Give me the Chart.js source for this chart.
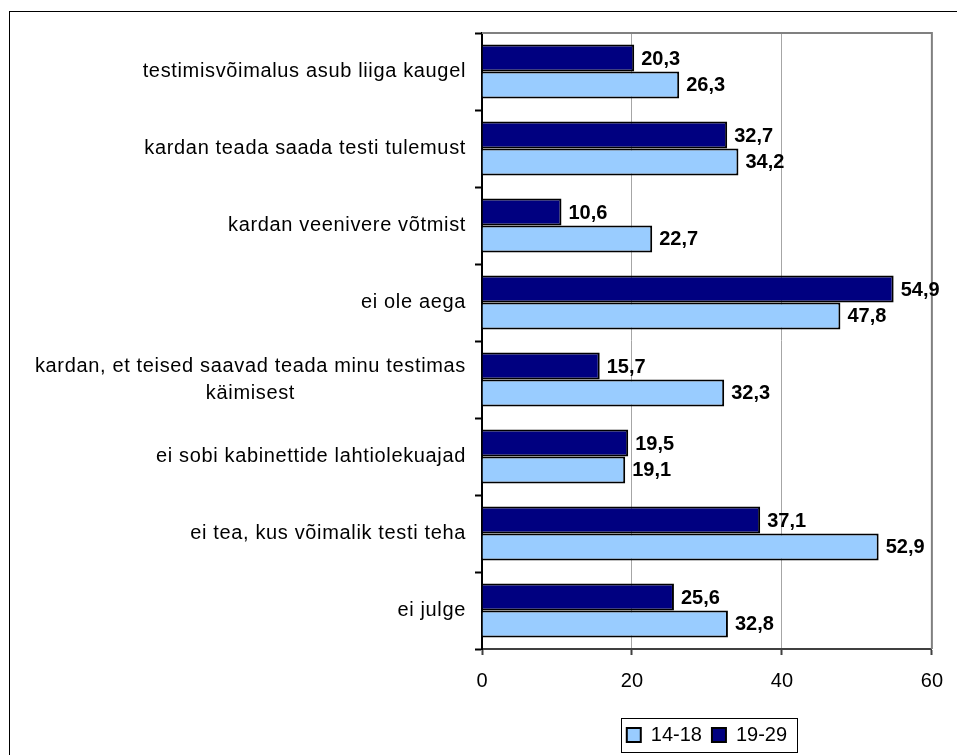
<!DOCTYPE html>
<html>
<head>
<meta charset="utf-8">
<script src="https://cdn.jsdelivr.net/npm/chart.js@4.4.1/dist/chart.umd.min.js"></script>
<style>
  html, body { margin: 0; padding: 0; background: #fff; }
  #wrap { width: 957px; height: 755px; }
</style>
</head>
<body>
<div id="wrap"><canvas id="chart" width="957" height="755"></canvas></div>
<script>
// categories, top to bottom
const categories = [
  'testimisvõimalus asub liiga kaugel',
  'kardan teada saada testi tulemust',
  'kardan veenivere võtmist',
  'ei ole aega',
  ['kardan, et teised saavad teada minu testimas', 'käimisest'],
  'ei sobi kabinettide lahtiolekuajad',
  'ei tea, kus võimalik testi teha',
  'ei julge'
];
const age1418 = [26.3, 34.2, 22.7, 47.8, 32.3, 19.1, 52.9, 32.8];
const age1929 = [20.3, 32.7, 10.6, 54.9, 15.7, 19.5, 37.1, 25.6];
const xTicks = [0, 20, 40, 60];

const FONT = 'Arial, "Liberation Sans", sans-serif';

// outer frame of the chart object
const frame = {
  id: 'frame',
  beforeDraw(chart) {
    const ctx = chart.ctx;
    ctx.save();
    ctx.fillStyle = '#fff';
    ctx.fillRect(0, 0, chart.width, chart.height);
    ctx.strokeStyle = '#000';
    ctx.lineWidth = 1;
    ctx.strokeRect(9.5, 11.5, 2000, 2000);
    ctx.restore();
  },
  beforeDatasetsDraw(chart) {
    // grey plot area border on top and right
    const {ctx, chartArea: a} = chart;
    ctx.save();
    ctx.strokeStyle = '#808080';
    ctx.lineWidth = 2;
    ctx.beginPath();
    ctx.moveTo(a.left, a.top);
    ctx.lineTo(a.right, a.top);
    ctx.lineTo(a.right, a.bottom);
    ctx.stroke();
    ctx.restore();
  }
};

// category labels: single lines right aligned, wrapped ones centred
const catLabels = {
  id: 'catLabels',
  afterDraw(chart) {
    const {ctx, scales: {y}} = chart;
    const right = chart.chartArea.left - 16;
    ctx.save();
    ctx.font = '20px ' + FONT;
    ctx.letterSpacing = '0.65px';
    ctx.fillStyle = '#000';
    ctx.textBaseline = 'middle';
    categories.forEach((lab, i) => {
      const cy = y.getPixelForValue(i);
      const lines = Array.isArray(lab) ? lab : [lab];
      const widest = Math.max(...lines.map(l => ctx.measureText(l).width));
      ctx.textAlign = lines.length > 1 ? 'center' : 'right';
      const x = lines.length > 1 ? right - widest / 2 : right;
      lines.forEach((l, j) => {
        ctx.fillText(l, x, cy + (j - (lines.length - 1) / 2) * 27);
      });
    });
    ctx.restore();
  }
};

// value labels at bar ends
const valueLabels = {
  id: 'valueLabels',
  afterDatasetsDraw(chart) {
    const ctx = chart.ctx;
    ctx.save();
    ctx.font = 'bold 20px ' + FONT;
    ctx.fillStyle = '#000';
    ctx.textAlign = 'left';
    ctx.textBaseline = 'middle';
    chart.data.datasets.forEach((ds, di) => {
      chart.getDatasetMeta(di).data.forEach((bar, i) => {
        ctx.fillText(ds.data[i].toFixed(1).replace('.', ','), bar.x + 7, bar.y + 1);
      });
    });
    ctx.restore();
  }
};

// box around the legend
const legendBox = {
  id: 'legendBox',
  afterDraw(chart) {
    const boxes = chart.legend.legendHitBoxes;
    if (!boxes || !boxes.length) return;
    const first = boxes[0], last = boxes[boxes.length - 1];
    const ctx = chart.ctx;
    ctx.save();
    ctx.strokeStyle = '#000';
    ctx.lineWidth = 1;
    const l = Math.round(first.left - 6) + 0.5;
    const r = Math.round(last.left + last.width + 10) + 0.5;
    const t = Math.round(first.top - 7) + 0.5;
    const b = Math.round(first.top + first.height + 7) + 0.5;
    ctx.strokeRect(l, t, r - l, b - t);
    ctx.restore();
  }
};

new Chart(document.getElementById('chart'), {
  type: 'bar',
  data: {
    labels: categories,
    datasets: [
      { label: '19-29', data: age1929, backgroundColor: '#000080', borderColor: '#000', borderWidth: 2,
        categoryPercentage: 0.7, barPercentage: 1 },
      { label: '14-18', data: age1418, backgroundColor: '#99ccff', borderColor: '#000', borderWidth: 2,
        categoryPercentage: 0.7, barPercentage: 1 }
    ]
  },
  options: {
    indexAxis: 'y',
    responsive: false,
    animation: false,
    layout: { padding: { top: 33, right: 25, left: 0, bottom: 0 } },
    scales: {
      x: {
        min: 0, max: 60,
        afterBuildTicks(scale) { scale.ticks = xTicks.map(v => ({ value: v })); },
        afterFit(scale) { scale.height = 66; },
        grid: { color: '#a6a6a6', lineWidth: 1, tickColor: '#404040', tickLength: 6, tickWidth: 2 },
        border: { color: '#404040', width: 2 },
        ticks: { color: '#000', font: { family: FONT, size: 20 }, padding: 14 }
      },
      y: {
        afterFit(scale) { scale.width = 482; },
        grid: { drawOnChartArea: false, tickColor: '#000', tickLength: 7, tickWidth: 2, offset: true },
        border: { color: '#000', width: 2 },
        ticks: { display: false }
      }
    },
    plugins: {
      legend: {
        position: 'bottom',
        fullSize: false,
        reverse: true,
        labels: {
          color: '#000',
          font: { family: FONT, size: 20 },
          boxWidth: 14,
          boxHeight: 14,
          padding: 10,
          generateLabels(chart) {
            return chart.data.datasets.map((ds, i) => ({
              text: ds.label,
              fillStyle: ds.backgroundColor,
              strokeStyle: '#000',
              lineWidth: 2,
              datasetIndex: i,
              hidden: false
            }));
          }
        }
      },
      tooltip: { enabled: false }
    }
  },
  plugins: [frame, catLabels, valueLabels, legendBox]
});
</script>
</body>
</html>
